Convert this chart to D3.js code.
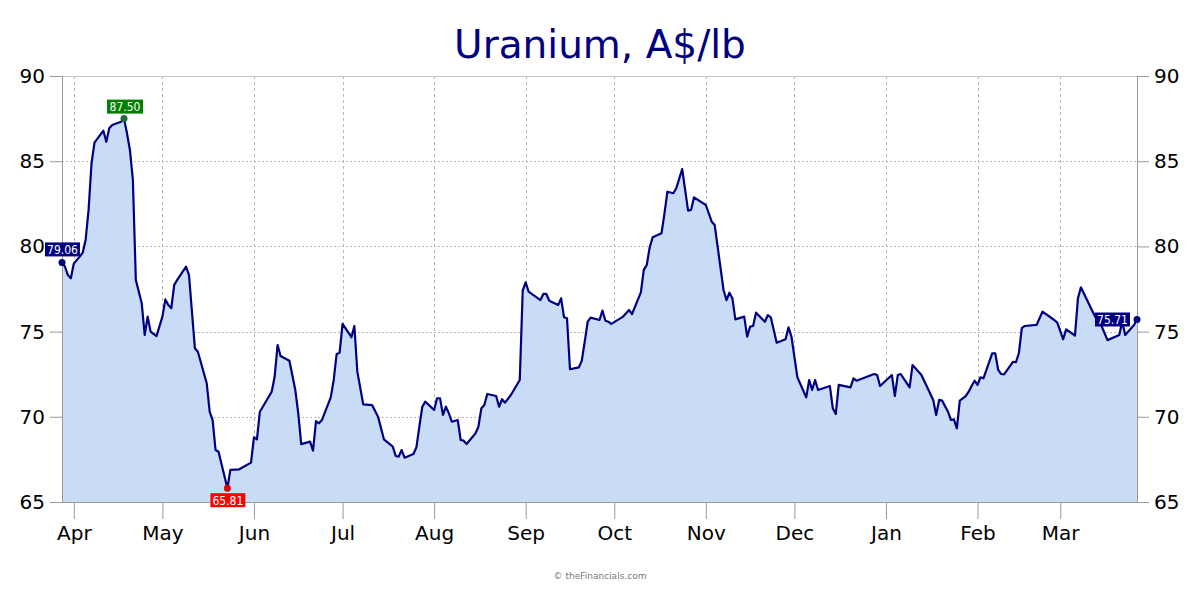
<!DOCTYPE html>
<html>
<head>
<meta charset="utf-8">
<script src="https://cdn.jsdelivr.net/npm/d3@7"></script>
<style>
  html, body { margin: 0; padding: 0; background: #fff; }
  svg { display: block; }
</style>
</head>
<body>
<svg id="chart" width="1200" height="600"></svg>
<script>
const title = "Uranium, A$/lb";
const footer = "© theFinancials.com";
const yTicks = [65, 70, 75, 80, 85, 90];

const dates = [
  "2022-03-28","2022-03-29","2022-03-30","2022-03-31","2022-04-01","2022-04-03","2022-04-04","2022-04-05","2022-04-06","2022-04-07",
  "2022-04-08","2022-04-11","2022-04-12","2022-04-13","2022-04-14","2022-04-17","2022-04-18","2022-04-19","2022-04-20","2022-04-21",
  "2022-04-22","2022-04-24","2022-04-25","2022-04-26","2022-04-27","2022-04-29","2022-05-01","2022-05-02","2022-05-03","2022-05-04",
  "2022-05-05","2022-05-06","2022-05-09","2022-05-10","2022-05-12","2022-05-13","2022-05-16","2022-05-17","2022-05-18","2022-05-19",
  "2022-05-20","2022-05-23","2022-05-24","2022-05-27","2022-05-31","2022-06-01","2022-06-02","2022-06-03","2022-06-07","2022-06-08",
  "2022-06-09","2022-06-10","2022-06-13","2022-06-15","2022-06-16","2022-06-17","2022-06-20","2022-06-21","2022-06-22","2022-06-23",
  "2022-06-24","2022-06-27","2022-06-28","2022-06-29","2022-06-30","2022-07-01","2022-07-04","2022-07-05","2022-07-06","2022-07-08",
  "2022-07-11","2022-07-13","2022-07-15","2022-07-18","2022-07-19","2022-07-20","2022-07-21","2022-07-22","2022-07-25","2022-07-26",
  "2022-07-27","2022-07-28","2022-07-29","2022-08-01","2022-08-02","2022-08-03","2022-08-04","2022-08-05","2022-08-06","2022-08-07",
  "2022-08-09","2022-08-10","2022-08-11","2022-08-12","2022-08-15","2022-08-16","2022-08-17","2022-08-18","2022-08-19","2022-08-22",
  "2022-08-23","2022-08-24","2022-08-25","2022-08-27","2022-08-29","2022-08-30","2022-08-31","2022-09-01","2022-09-02","2022-09-06",
  "2022-09-07","2022-09-08","2022-09-09","2022-09-12","2022-09-13","2022-09-14","2022-09-15","2022-09-16","2022-09-19","2022-09-20",
  "2022-09-21","2022-09-22","2022-09-23","2022-09-26","2022-09-27","2022-09-28","2022-09-29","2022-09-30","2022-10-04","2022-10-06",
  "2022-10-07","2022-10-10","2022-10-11","2022-10-12","2022-10-13","2022-10-14","2022-10-17","2022-10-18","2022-10-19","2022-10-21",
  "2022-10-22","2022-10-24","2022-10-26","2022-10-27","2022-10-28","2022-11-01","2022-11-03","2022-11-04","2022-11-07","2022-11-08",
  "2022-11-09","2022-11-10","2022-11-11","2022-11-14","2022-11-15","2022-11-16","2022-11-17","2022-11-18","2022-11-21","2022-11-22",
  "2022-11-23","2022-11-25","2022-11-28","2022-11-29","2022-11-30","2022-12-02","2022-12-05","2022-12-06","2022-12-07","2022-12-08",
  "2022-12-09","2022-12-13","2022-12-14","2022-12-15","2022-12-16","2022-12-20","2022-12-21","2022-12-22","2022-12-28","2022-12-29",
  "2022-12-30","2023-01-03","2023-01-04","2023-01-05","2023-01-06","2023-01-09","2023-01-10","2023-01-12","2023-01-13","2023-01-17",
  "2023-01-18","2023-01-19","2023-01-20","2023-01-22","2023-01-23","2023-01-24","2023-01-25","2023-01-26","2023-01-28","2023-01-29",
  "2023-01-30","2023-01-31","2023-02-01","2023-02-02","2023-02-03","2023-02-06","2023-02-07","2023-02-08","2023-02-09","2023-02-10",
  "2023-02-13","2023-02-14","2023-02-15","2023-02-16","2023-02-17","2023-02-21","2023-02-23","2023-02-27","2023-02-28","2023-03-02",
  "2023-03-03","2023-03-06","2023-03-07","2023-03-08","2023-03-12","2023-03-14","2023-03-15","2023-03-17","2023-03-21","2023-03-22",
  "2023-03-23","2023-03-26","2023-03-27"
];

const values = [
  79.06,78.81,78.32,78.13,79.00,79.40,79.63,80.38,82.14,84.88,
  86.09,86.79,86.14,86.93,87.12,87.32,87.50,86.64,85.66,83.90,
  78.03,76.66,74.80,75.88,75.00,74.74,75.88,76.89,76.56,76.37,
  77.74,78.03,78.81,78.32,74.02,73.82,71.97,70.30,69.81,68.05,
  67.95,65.81,66.88,66.92,67.31,68.80,68.68,70.30,71.47,72.35,
  74.21,73.57,73.29,71.57,70.20,68.40,68.54,68.01,69.75,69.62,
  69.81,71.14,72.16,73.69,73.76,75.45,74.67,75.33,72.65,70.73,
  70.69,70.01,68.68,68.25,67.70,67.66,68.05,67.60,67.82,68.21,
  69.42,70.59,70.89,70.40,71.09,71.09,70.11,70.59,70.20,69.71,
  69.81,68.64,68.60,68.40,69.03,69.42,70.50,70.69,71.34,71.22,
  70.59,71.03,70.83,71.28,71.87,72.16,77.40,77.89,77.34,76.85,
  77.21,77.21,76.81,76.56,76.95,75.84,75.78,72.79,72.90,73.29,
  74.41,75.58,75.82,75.68,76.23,75.64,75.58,75.45,75.88,76.27,
  76.03,77.30,78.62,78.91,79.95,80.53,80.77,81.94,83.21,83.12,
  83.41,84.54,82.10,82.14,82.88,82.43,81.45,81.26,77.44,76.85,
  77.28,76.95,75.72,75.88,74.70,75.29,75.33,76.11,75.58,75.97,
  75.84,74.35,74.55,75.25,74.70,72.32,71.14,72.16,71.57,72.16,
  71.57,71.81,70.50,70.16,71.87,71.73,72.26,72.12,72.51,72.45,
  71.81,72.45,71.22,72.45,72.51,71.73,73.04,72.65,72.45,70.99,
  70.11,70.99,70.95,70.30,69.81,69.85,69.32,70.95,71.22,71.47,
  71.81,72.12,71.87,72.32,72.26,73.73,73.73,72.75,72.51,72.49,
  73.23,73.20,73.73,75.20,75.33,75.39,76.17,75.68,75.53,74.55,
  75.13,74.77,76.95,77.60,76.17,75.49,75.33,74.50,74.80,75.60,
  74.80,75.39,75.71
];

const parse = d3.timeParse("%Y-%m-%d");
const data = dates.map((d, i) => ({ date: parse(d), value: values[i] }));

const svg = d3.select("#chart");
const L = 62, R = 1137, T = 76, B = 502;
const FONT = "'DejaVu Sans', Verdana, sans-serif";

const x = d3.scaleTime().domain(d3.extent(data, d => d.date)).range([L, R]);
const y = d3.scaleLinear().domain([65, 90]).range([B, T]);

const months = d3.timeMonth.range(d3.timeMonth.ceil(x.domain()[0]), x.domain()[1]);

// gridlines
const grid = svg.append("g");
grid.selectAll("line.h").data(yTicks.filter(t => t > 65 && t < 90)).enter().append("line")
  .attr("x1", L).attr("x2", R).attr("y1", d => Math.round(y(d)) + 0.5).attr("y2", d => Math.round(y(d)) + 0.5)
  .attr("stroke", "#b8b8b8").attr("stroke-width", 1).attr("stroke-dasharray", "2,2");
grid.selectAll("line.v").data(months).enter().append("line")
  .attr("x1", d => Math.round(x(d)) + 0.5).attr("x2", d => Math.round(x(d)) + 0.5)
  .attr("y1", T).attr("y2", B)
  .attr("stroke", "#b8b8b8").attr("stroke-width", 1).attr("stroke-dasharray", "3,3");
// top border
svg.append("line").attr("x1", L).attr("x2", R).attr("y1", T + 0.5).attr("y2", T + 0.5)
  .attr("stroke", "#c8c8c8").attr("stroke-width", 1);

// area + line
const area = d3.area().x(d => x(d.date)).y0(y(65)).y1(d => y(d.value));
const line = d3.line().x(d => x(d.date)).y(d => y(d.value));
svg.append("path").datum(data).attr("d", area).attr("fill", "#c8ddf5");
svg.append("path").datum(data).attr("d", line).attr("fill", "none")
  .attr("stroke", "#000080").attr("stroke-width", 2.2).attr("stroke-linejoin", "round");

// axes
function styleAxis(size) {
  return g => {
    g.selectAll("path.domain").attr("stroke", "#999");
    g.selectAll(".tick line").attr("stroke", "#999");
    g.selectAll("text").attr("fill", "#000").attr("font-family", FONT).attr("font-size", size);
  };
}
svg.append("g").attr("transform", `translate(${L},0)`)
  .call(d3.axisLeft(y).tickValues(yTicks).tickSize(12).tickPadding(5).tickSizeOuter(0))
  .call(styleAxis("20px"));
svg.append("g").attr("transform", `translate(${R},0)`)
  .call(d3.axisRight(y).tickValues(yTicks).tickSize(12).tickPadding(5).tickSizeOuter(0))
  .call(styleAxis("20px"));
svg.append("g").attr("transform", `translate(0,${B})`)
  .call(d3.axisBottom(x).tickValues(months).tickFormat(d3.timeFormat("%b")).tickSize(17).tickPadding(7).tickSizeOuter(0))
  .call(styleAxis("20px"))
  .call(g => g.select("path.domain").attr("d", `M${L - 12},0.5H${R + 12}`));

// annotations
const first = data[0], last = data[data.length - 1];
const maxD = data.reduce((a, b) => (b.value > a.value ? b : a));
const minD = data.reduce((a, b) => (b.value < a.value ? b : a));
const notes = [
  { d: first, bg: "#000080", dot: "#000080", dx: -17, dy: -20, w: 35 },
  { d: maxD, bg: "#008000", dot: "#1f6b3a", dx: -17, dy: -19, w: 36 },
  { d: minD, bg: "#ff0000", dot: "#e00000", dx: -17, dy: 5, w: 35 },
  { d: last, bg: "#000080", dot: "#000080", dx: -42, dy: -7, w: 35 }
];
notes.forEach(n => {
  const px = x(n.d.date), py = y(n.d.value);
  svg.append("rect").attr("x", px + n.dx).attr("y", py + n.dy).attr("width", n.w).attr("height", 14)
    .attr("fill", n.bg);
  svg.append("text").attr("x", px + n.dx + n.w / 2).attr("y", py + n.dy + 11.5)
    .attr("text-anchor", "middle").attr("fill", "#fff")
    .attr("font-family", "'DejaVu Sans Condensed', 'Liberation Sans Narrow', Arial, sans-serif")
    .attr("font-size", "12px").text(n.d.value.toFixed(2));
  svg.append("circle").attr("cx", px).attr("cy", py).attr("r", 3.5).attr("fill", n.dot);
});

// title & footer
svg.append("text").attr("x", 600).attr("y", 58).attr("text-anchor", "middle")
  .attr("font-family", FONT).attr("font-size", "39px").attr("fill", "#000080").text(title);
svg.append("text").attr("x", 600).attr("y", 579).attr("text-anchor", "middle")
  .attr("font-family", FONT).attr("font-size", "9px").attr("fill", "#777").text(footer);
</script>
</body>
</html>
